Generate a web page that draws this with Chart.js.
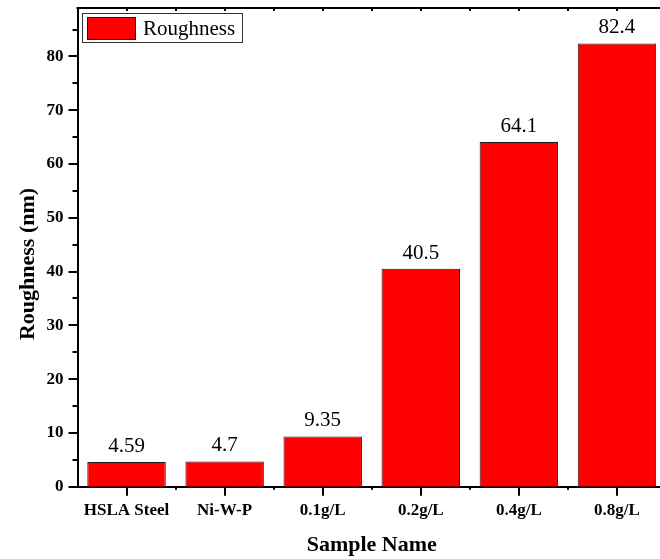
<!DOCTYPE html>
<html>
<head>
<meta charset="utf-8">
<style>
  html, body { margin: 0; padding: 0; overflow: hidden; background: #fff; width: 660px; height: 559px; }
  #wrap { width: 672px; height: 559px; }
</style>
<script src="https://cdn.jsdelivr.net/npm/chart.js@4.4.0/dist/chart.umd.min.js"></script>
</head>
<body>
<div id="wrap"><canvas id="c" width="672" height="559"></canvas></div>
<script>
// Sample roughness measurements
const categories = ['HSLA Steel', 'Ni-W-P', '0.1g/L', '0.2g/L', '0.4g/L', '0.8g/L'];
const roughness = [4.59, 4.7, 9.35, 40.5, 64.1, 82.4];
const seriesName = 'Roughness';
const xTitle = 'Sample Name';
const yTitle = 'Roughness (nm)';
const yMajorTicks = [0, 10, 20, 30, 40, 50, 60, 70, 80];
const yMinorTicks = [5, 15, 25, 35, 45, 55, 65, 75, 85];

const SERIF = '"Liberation Serif", "Times New Roman", Times, serif';
const RED = '#ff0000';
const EDGE = '#1a1a1a';

// Frame, tick marks, legend, y title and value labels
const framePlugin = {
  id: 'frame',
  afterDatasetsDraw(chart) {
    const ctx = chart.ctx;
    const meta = chart.getDatasetMeta(0);
    ctx.save();
    ctx.fillStyle = '#000';
    ctx.font = '21px ' + SERIF;
    ctx.textAlign = 'center';
    ctx.textBaseline = 'alphabetic';
    meta.data.forEach((bar, i) => {
      ctx.fillText(String(chart.data.datasets[0].data[i]), bar.x, bar.y - 10);
    });
    ctx.restore();
  },
  afterDraw(chart) {
    const ctx = chart.ctx;
    const a = chart.chartArea;
    const xs = chart.scales.x;
    const ys = chart.scales.y;
    ctx.save();
    ctx.strokeStyle = '#000';

    // top and right frame lines
    ctx.lineWidth = 2;
    ctx.beginPath();
    ctx.moveTo(a.left - 1, a.top);
    ctx.lineTo(a.right + 1, a.top);
    ctx.stroke();
    ctx.beginPath();
    ctx.moveTo(a.right, a.top);
    ctx.lineTo(a.right, a.bottom);
    ctx.stroke();

    // y ticks (outward)
    yMajorTicks.forEach(v => {
      const y = Math.round(ys.getPixelForValue(v));
      ctx.beginPath();
      ctx.moveTo(a.left - 9, y);
      ctx.lineTo(a.left, y);
      ctx.stroke();
    });
    yMinorTicks.forEach(v => {
      const y = Math.round(ys.getPixelForValue(v));
      ctx.beginPath();
      ctx.moveTo(a.left - 5, y);
      ctx.lineTo(a.left, y);
      ctx.stroke();
    });

    // x ticks at category centres (outward) and small marks at boundaries
    categories.forEach((c, i) => {
      const x = Math.round(xs.getPixelForValue(i));
      ctx.beginPath();
      ctx.moveTo(x, a.bottom);
      ctx.lineTo(x, a.bottom + 9);
      ctx.stroke();
      ctx.beginPath();
      ctx.moveTo(x, a.top);
      ctx.lineTo(x, a.top + 3);
      ctx.stroke();
      if (i < categories.length - 1) {
        const xb = Math.round((xs.getPixelForValue(i) + xs.getPixelForValue(i + 1)) / 2);
        ctx.beginPath();
        ctx.moveTo(xb, a.bottom);
        ctx.lineTo(xb, a.bottom + 3);
        ctx.stroke();
        ctx.beginPath();
        ctx.moveTo(xb, a.top);
        ctx.lineTo(xb, a.top + 3);
        ctx.stroke();
      }
    });

    // legend box
    ctx.lineWidth = 1;
    ctx.strokeStyle = '#333';
    ctx.fillStyle = '#fff';
    ctx.fillRect(82, 13.5, 160, 29);
    ctx.strokeRect(82.5, 13.5, 160, 29);
    ctx.fillStyle = RED;
    ctx.fillRect(87.5, 17.5, 48, 22);
    ctx.strokeStyle = EDGE;
    ctx.strokeRect(87.5, 17.5, 48, 22);
    ctx.fillStyle = '#000';
    ctx.font = '21px ' + SERIF;
    ctx.textAlign = 'left';
    ctx.textBaseline = 'alphabetic';
    ctx.fillText(chart.data.datasets[0].label, 143, 35);

    // y axis title
    ctx.translate(34, 264);
    ctx.rotate(-Math.PI / 2);
    ctx.font = 'bold 22px ' + SERIF;
    ctx.textAlign = 'center';
    ctx.fillText(yTitle, 0, 0);
    ctx.restore();
  }
};

new Chart(document.getElementById('c'), {
  type: 'bar',
  data: {
    labels: categories,
    datasets: [{
      label: seriesName,
      data: roughness,
      backgroundColor: RED,
      borderColor: EDGE,
      borderWidth: 1,
      barPercentage: 1,
      categoryPercentage: 0.8
    }]
  },
  options: {
    responsive: false,
    animation: false,
    devicePixelRatio: 1,
    layout: { padding: { top: 8, right: 6, left: 0, bottom: 0 } },
    plugins: {
      legend: { display: false },
      tooltip: { enabled: false }
    },
    scales: {
      x: {
        offset: true,
        grid: { display: false, drawTicks: true, tickLength: 10 },
        border: { display: true, color: '#000', width: 2 },
        ticks: {
          color: '#000',
          padding: 4,
          maxRotation: 0,
          autoSkip: false,
          font: { family: SERIF, size: 17, weight: 'bold' }
        },
        title: {
          display: true,
          text: xTitle,
          color: '#000',
          padding: { top: 0, bottom: 0 },
          font: { family: SERIF, size: 22, weight: 'bold', lineHeight: 1.2 }
        },
        afterFit(s) {
          s.height = 72.3;
          s.paddingLeft = 0;
          s.paddingRight = 0;
        }
      },
      y: {
        min: 0,
        max: 89,
        grid: { display: false, drawTicks: true, tickLength: 10 },
        border: { display: true, color: '#000', width: 2 },
        ticks: {
          stepSize: 10,
          includeBounds: false,
          color: '#000',
          padding: 4,
          font: { family: SERIF, size: 17, weight: 'bold' }
        },
        afterFit(s) {
          s.width = 77.5;
          s.paddingTop = 0;
          s.paddingBottom = 0;
        }
      }
    }
  },
  plugins: [framePlugin]
});
</script>
</body>
</html>
